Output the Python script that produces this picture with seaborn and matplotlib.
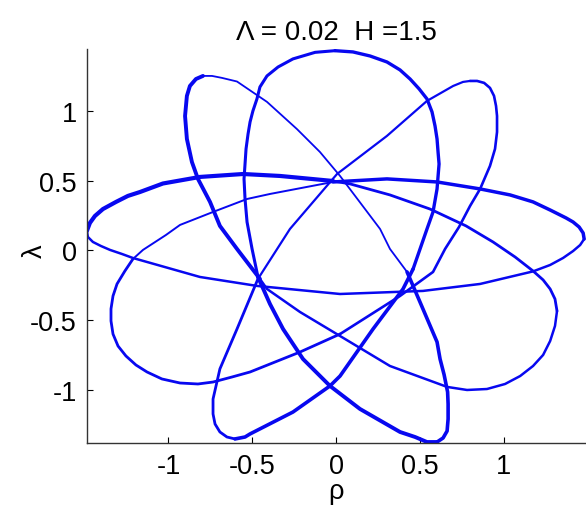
import matplotlib
matplotlib.use("Agg")
import matplotlib.pyplot as plt
import seaborn as sns
import pandas as pd

# Orbit traced in the (rho, lambda) plane, stored piece by piece as (rho, lambda) pairs.
a_left = [(-0.006, 1.432), (-0.125, 1.420), (-0.257, 1.373), (-0.346, 1.315), (-0.412, 1.251),
          (-0.454, 1.172), (-0.472, 1.086), (-0.496, 1.000), (-0.513, 0.921), (-0.525, 0.835),
          (-0.537, 0.728), (-0.543, 0.620), (-0.549, 0.513), (-0.543, 0.369), (-0.531, 0.204),
          (-0.501, 0.011), (-0.466, -0.190)]
band_to_h = [(-0.466, -0.190), (-0.394, -0.384), (-0.316, -0.563), (-0.197, -0.778), (-0.036, -0.971),
             (0.143, -1.136), (0.382, -1.301), (0.472, -1.337), (0.543, -1.373), (0.603, -1.373)]
h_right = [(0.603, -1.373), (0.639, -1.344), (0.663, -1.294), (0.669, -1.208), (0.669, -1.100),
           (0.666, -1.014), (0.645, -0.890), (0.621, -0.778), (0.603, -0.656), (0.501, -0.369),
           (0.424, -0.154)]
b_right = [(0.424, -0.154), (0.322, 0.011), (0.263, 0.154), (0.024, 0.534), (-0.096, 0.706),
           (-0.233, 0.870), (-0.412, 1.065), (-0.591, 1.211), (-0.681, 1.237), (-0.740, 1.251),
           (-0.794, 1.251)]
b_left = [(-0.794, 1.251), (-0.836, 1.229), (-0.872, 1.179), (-0.890, 1.108), (-0.901, 0.964),
          (-0.890, 0.799), (-0.860, 0.634), (-0.824, 0.513), (-0.752, 0.348), (-0.693, 0.176),
          (-0.591, 0.011), (-0.454, -0.204)]
i_lower = [(-0.454, -0.204), (-0.412, -0.276), (-0.215, -0.441), (0.024, -0.613), (0.322, -0.828),
           (0.663, -0.978), (0.782, -1.000), (0.901, -0.993), (1.009, -0.957), (1.099, -0.900),
           (1.176, -0.828), (1.236, -0.749), (1.278, -0.649), (1.307, -0.541), (1.319, -0.434)]
i_upper = [(1.319, -0.434), (1.307, -0.348), (1.278, -0.276), (1.236, -0.211), (1.176, -0.147),
           (1.069, -0.047), (0.937, 0.061), (0.776, 0.176), (0.561, 0.297), (0.322, 0.398),
           (0.084, 0.477), (-0.018, 0.498)]
d_upper = [(-0.018, 0.498), (-0.334, 0.534), (-0.555, 0.548), (-0.812, 0.527), (-1.033, 0.480),
           (-1.170, 0.419), (-1.242, 0.391), (-1.313, 0.348), (-1.391, 0.297), (-1.439, 0.247),
           (-1.469, 0.197), (-1.487, 0.140)]
d_lower = [(-1.487, 0.140), (-1.481, 0.097), (-1.451, 0.061), (-1.403, 0.032), (-1.349, 0.004),
           (-1.278, -0.025), (-1.212, -0.054), (-0.812, -0.190), (-0.472, -0.254), (0.024, -0.312),
           (0.519, -0.290), (0.860, -0.240), (1.176, -0.150), (1.278, -0.104), (1.355, -0.054),
           (1.415, -0.004), (1.457, 0.039), (1.481, 0.082)]
e_upper = [(1.481, 0.082), (1.475, 0.125), (1.451, 0.168), (1.415, 0.204), (1.373, 0.233),
           (1.278, 0.290), (1.176, 0.348), (1.039, 0.398), (0.860, 0.441), (0.603, 0.491),
           (0.304, 0.513), (0.084, 0.498), (-0.018, 0.491)]
f_upper = [(-0.018, 0.491), (-0.394, 0.405), (-0.531, 0.369), (-0.734, 0.276), (-0.931, 0.183),
           (-1.015, 0.111), (-1.152, 0.004), (-1.212, -0.061)]
f_lobe = [(-1.212, -0.061), (-1.260, -0.147), (-1.307, -0.240), (-1.331, -0.326), (-1.343, -0.419),
          (-1.343, -0.505), (-1.331, -0.599), (-1.301, -0.685), (-1.254, -0.756), (-1.194, -0.821),
          (-1.128, -0.871), (-1.039, -0.921), (-0.931, -0.950), (-0.824, -0.957), (-0.734, -0.943),
          (-0.621, -0.907), (-0.513, -0.871), (-0.215, -0.728), (0.024, -0.599)]
c_right = [(0.024, -0.599), (0.382, -0.326), (0.579, -0.154), (0.651, 0.011), (0.734, 0.168),
           (0.800, 0.319), (0.860, 0.441), (0.919, 0.606), (0.949, 0.728), (0.961, 0.849),
           (0.961, 0.964), (0.955, 1.036), (0.943, 1.108), (0.919, 1.165), (0.884, 1.201),
           (0.842, 1.215), (0.800, 1.215)]
c_left = [(0.800, 1.215), (0.758, 1.208), (0.699, 1.179), (0.543, 1.072), (0.304, 0.821),
          (0.006, 0.548), (-0.275, 0.154), (-0.466, -0.204)]
g_left = [(-0.466, -0.204), (-0.591, -0.563), (-0.693, -0.849), (-0.734, -1.065), (-0.734, -1.172),
          (-0.722, -1.244), (-0.693, -1.301), (-0.651, -1.337), (-0.603, -1.351)]
g_right = [(-0.603, -1.351), (-0.543, -1.337), (-0.513, -1.315), (-0.257, -1.158), (-0.036, -0.971),
           (0.024, -0.900), (0.221, -0.563), (0.400, -0.276), (0.460, -0.133)]
a_right = [(0.460, -0.133), (0.543, 0.154), (0.579, 0.276), (0.603, 0.441), (0.615, 0.620),
           (0.609, 0.706), (0.603, 0.799), (0.591, 0.892), (0.573, 0.993), (0.543, 1.086),
           (0.496, 1.158), (0.442, 1.229), (0.382, 1.294), (0.304, 1.351), (0.203, 1.394),
           (0.101, 1.423), (-0.006, 1.432)]

# Stroke width of each piece (bands where the orbit passes several times are wider)
pieces = [
    (a_left, 2.2), (band_to_h, 2.8), (h_right, 2.6), (b_right, 1.3), (b_left, 2.8),
    (i_lower, 1.8), (i_upper, 2.0), (d_upper, 3.0), (d_lower, 1.8), (e_upper, 2.5),
    (f_upper, 1.4), (f_lobe, 2.0), (c_right, 1.9), (c_left, 1.6), (g_left, 2.0),
    (g_right, 2.6), (a_right, 2.4),
]

x_ticks = [-1, -0.5, 0, 0.5, 1]
x_tick_labels = ["-1", "-0.5", "0", "0.5", "1"]
y_ticks = [-1, -0.5, 0, 0.5, 1]
y_tick_labels = ["-1", "-0.5", "0", "0.5", "1"]
title_text = "\u039b = 0.02  H =1.5"

sns.set_style("white")
plt.rcParams["font.family"] = ["Liberation Sans", "DejaVu Sans"]
plt.rcParams["text.color"] = "black"
plt.rcParams["axes.labelcolor"] = "black"

W, H = 586, 510
fig = plt.figure(figsize=(W / 100, H / 100), dpi=100)
left, right, top, bottom = 86.7, 586.0, 50.0, 444.0
ax = fig.add_axes([left / W, 1 - bottom / H, (right - left) / W, (bottom - top) / H])

line_color = "#0808f0"
for pts, lw in pieces:
    df = pd.DataFrame(pts, columns=["rho", "lam"])
    sns.lineplot(data=df, x="rho", y="lam", sort=False, estimator=None,
                 color=line_color, linewidth=lw, ax=ax, solid_capstyle="round",
                 solid_joinstyle="round")

ax.set_xlim(-1.488, 1.492)
ax.set_ylim(-1.380, 1.444)

ax.set_xticks(x_ticks)
ax.set_xticklabels(x_tick_labels)
ax.set_yticks(y_ticks)
ax.set_yticklabels(y_tick_labels)
ax.tick_params(direction="in", length=4, width=0.8, colors="black",
               labelsize=19.5, pad=7, bottom=True, left=True, top=False, right=False)

for side in ("top", "right"):
    ax.spines[side].set_visible(False)
for side in ("left", "bottom"):
    ax.spines[side].set_color("#333333")
    ax.spines[side].set_linewidth(1.0)

ax.set_xlabel("\u03c1", fontsize=19.5, color="black")
ax.xaxis.set_label_coords(0.5, -0.088)
ax.set_ylabel("\u03bb", fontsize=19.5, color="black")
ax.yaxis.set_label_coords(-0.078, 0.49)
ax.set_title(title_text, fontsize=20, pad=7, color="black")

fig.savefig("out.png", dpi=100)
